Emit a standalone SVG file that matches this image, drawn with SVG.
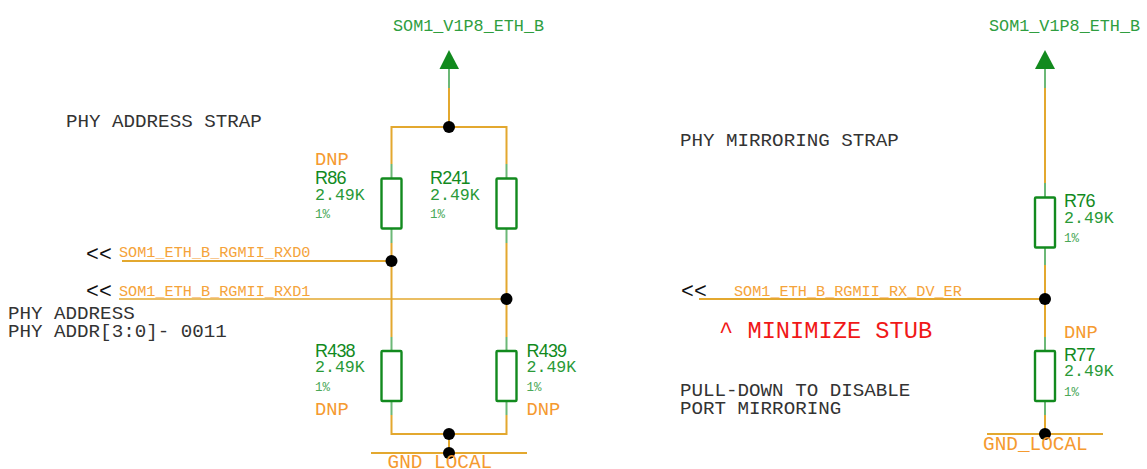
<svg xmlns="http://www.w3.org/2000/svg" width="1147" height="469" viewBox="0 0 1147 469">
<defs>
<style>
text{font-family:"Liberation Mono",monospace;white-space:pre}
.pw{font-size:16.8px;fill:#2f9e3f}
.note{font-size:19.2px;fill:#333}
.net{font-size:15.2px;fill:#f5a33a}
.arr{font-size:21.5px;fill:#111}
.dnp{font-size:18.8px;fill:#f59a30}
.gnd{font-size:19.4px;fill:#f59a30}
.ref{font-family:"Liberation Sans",sans-serif;font-size:18px;letter-spacing:-.8px;fill:#128a1e}
.val{font-size:16.6px;fill:#2a9a38}
.tol{font-size:12.5px;fill:#4aa858}
.red{font-size:23.7px;fill:#f01818}
.w{fill:none;stroke:#e3a82f;stroke-width:2}
.g{fill:none;stroke:#6cb877;stroke-width:2}
.body{fill:#fff;stroke:#128a1e;stroke-width:2.4}
.thin{fill:none;stroke:#e3a82f;stroke-width:1.4}
.dot{fill:#000}
.tri{fill:#128a1e}
</style>
<g id="res"><rect class="body" x="-10" y="-25" width="20" height="50" rx="1"/></g>
</defs>
<g id="connectors">
<path class="w" d="M449 88V127M391.500 164V127H506.500V164"/>
<path class="g" d="M449 69V88M391.500 164V178M506.500 164V178M391.500 229V243M506.500 229V243M391.500 337V351M506.500 337V351M391.500 401V415M506.500 401V415"/>
<path class="w" d="M391.500 243V337M506.500 243V337M391.500 415V434H506.500V415M449 434V453M371 453H527M122 261H391.500"/>
<path class="thin" d="M119 299H506.500"/>
<path class="w" d="M1045 88V183M1045 265V337M1045 415V434M987 434H1103"/>
<path class="w" d="M699 299H1045"/>
<path class="g" d="M1045 69V88M1045 183V197M1045 248V265M1045 337V351M1045 401V415"/>
</g>
<g id="pwr1"><path class="tri" d="M449 50L459 69H439.500Z"/><text class="pw" x="393" y="31">SOM1_V1P8_ETH_B</text></g>
<g id="pwr2"><path class="tri" d="M1045 50L1055 69H1035Z"/><text class="pw" x="989" y="31">SOM1_V1P8_ETH_B</text></g>
<g id="R86"><use href="#res" x="391.500" y="203.500"/><text class="dnp" x="315" y="165">DNP</text><text class="ref" x="315" y="184">R86</text><text class="val" x="315" y="200">2.49K</text><text class="tol" x="315" y="218">1%</text></g>
<g id="R241"><use href="#res" x="506.500" y="203.500"/><text class="ref" x="430" y="184">R241</text><text class="val" x="430" y="200">2.49K</text><text class="tol" x="430" y="218">1%</text></g>
<g id="R438"><use href="#res" x="391.500" y="376"/><text class="ref" x="315" y="357">R438</text><text class="val" x="315" y="372">2.49K</text><text class="tol" x="315" y="391">1%</text><text class="dnp" x="315" y="415">DNP</text></g>
<g id="R439"><use href="#res" x="506.500" y="376"/><text class="ref" x="526.500" y="357">R439</text><text class="val" x="526.500" y="372">2.49K</text><text class="tol" x="526.500" y="391">1%</text><text class="dnp" x="526.500" y="415">DNP</text></g>
<g id="R76"><use href="#res" x="1045" y="222.500"/><text class="ref" x="1064" y="207">R76</text><text class="val" x="1064" y="223">2.49K</text><text class="tol" x="1064" y="242">1%</text></g>
<g id="R77"><use href="#res" x="1045" y="376"/><text class="dnp" x="1064" y="338">DNP</text><text class="ref" x="1064" y="361">R77</text><text class="val" x="1064" y="376">2.49K</text><text class="tol" x="1064" y="396">1%</text></g>
<g id="junctions">
<circle class="dot" cx="449" cy="127" r="6"/><circle class="dot" cx="391.500" cy="261" r="6"/><circle class="dot" cx="506.500" cy="299" r="6"/><circle class="dot" cx="449" cy="434" r="6"/><circle class="dot" cx="449" cy="453" r="6"/><circle class="dot" cx="1045" cy="299" r="6"/><circle class="dot" cx="1045" cy="434" r="6"/>
</g>
<g id="gnd-labels"><text class="gnd" x="387.500" y="468">GND_LOCAL</text><text class="gnd" x="983" y="450">GND_LOCAL</text></g>
<g id="nets">
<text class="arr" x="86" y="261">&lt;&lt;</text><text class="net" x="119" y="257">SOM1_ETH_B_RGMII_RXD0</text>
<text class="arr" x="86" y="298">&lt;&lt;</text><text class="net" x="119" y="296">SOM1_ETH_B_RGMII_RXD1</text>
<text class="arr" x="681" y="298">&lt;&lt;</text><text class="net" x="734" y="296">SOM1_ETH_B_RGMII_RX_DV_ER</text>
</g>
<g id="notes">
<text class="note" x="66" y="127">PHY ADDRESS STRAP</text>
<text class="note" x="8" y="319">PHY ADDRESS</text>
<text class="note" x="8" y="337">PHY ADDR[3:0]- 0011</text>
<text class="note" x="680" y="146">PHY MIRRORING STRAP</text>
<text class="note" x="680" y="396">PULL-DOWN TO DISABLE</text>
<text class="note" x="680" y="414">PORT MIRRORING</text>
<text class="red" x="719" y="338">^ MINIMIZE STUB</text>
</g>
</svg>
